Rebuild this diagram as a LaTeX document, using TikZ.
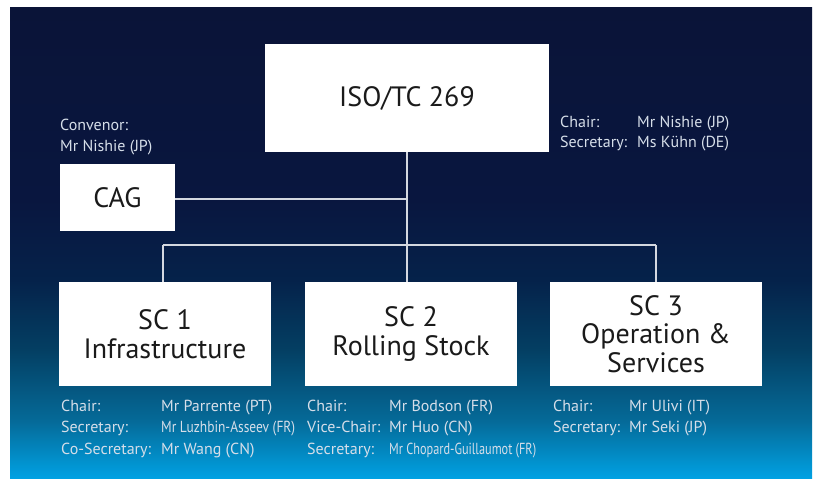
\documentclass[tikz,border=0pt]{standalone}
\usepackage{fontspec}
\setmainfont{PT Sans}
\usepackage{graphicx}
\definecolor{c0}{HTML}{0A1438}
\definecolor{c1}{HTML}{09163F}
\definecolor{c2}{HTML}{05224A}
\definecolor{c3}{HTML}{043F63}
\definecolor{c4}{HTML}{056A98}
\definecolor{cB}{HTML}{00A2E4}
\definecolor{boxtext}{HTML}{1A1A1A}
\definecolor{infotext}{HTML}{D6DEE9}
\definecolor{linecol}{HTML}{D4D8E0}
\pgfdeclareverticalshading{bgshade}{100bp}{color(0bp)=(cB); color(25bp)=(cB); color(31.2bp)=(c4); color(38.7bp)=(c3); color(46.1bp)=(c2); color(54.6bp)=(c1); color(75bp)=(c0); color(100bp)=(c0)}
\tikzset{
  box/.style={fill=white, draw=none, inner sep=0pt, minimum width=212pt, minimum height=104pt,
    align=center, text=boxtext, font=\fontsize{28}{28.5}\selectfont},
  info/.style={text=infotext, inner sep=0pt, font=\fontsize{16}{20}\selectfont, anchor=base west},
  link/.style={draw=linecol, line width=1.6pt},
}
\newcommand{\condensed}[2]{\resizebox{#1}{\height}{#2}}
\begin{document}
\begin{tikzpicture}[x=1pt,y=-1pt]
\useasboundingbox (0,0) rectangle (817,479);
\begin{scope}[y=1pt]
  \shade[shading=bgshade] (10,-7) rectangle (812,-479);
\end{scope}

% connectors (drawn first, boxes on top)
\coordinate (bus) at (407,245);
\coordinate (bus1) at (163,245);
\coordinate (bus3) at (656,245);
\coordinate (cagj) at (407,199);

\node[box, minimum width=284pt, minimum height=108pt] (iso) at (407,98) {ISO/TC 269};
\node[box, minimum width=115pt, minimum height=67pt] (cag) at (117.5,197.5) {CAG};
\node[box] (sc1) at (165,334) {SC 1\\Infrastructure};
\node[box] (sc2) at (411,334) {SC 2\\Rolling Stock};
\node[box] (sc3) at (656,334) {SC 3\\Operation \&\\Services};

\draw[link] (iso.south) -- (bus);
\draw[link] (cag.east |- cagj) -- (cagj);
\draw[link] (bus1) -- (bus3);
\draw[link] (bus1) -- (bus1 |- sc1.north);
\draw[link] (bus) -- (bus |- sc2.north);
\draw[link] (bus3) -- (sc3.north);

% CAG
\node[info] (conv) at (60,130.5) {Convenor:};
\node[info] (convn) at (60,151.5) {Mr Nishie (JP)};
% TC
\node[info] (tcl1) at (560,127) {Chair:};
\node[info] (tcn1) at (637,127) {Mr Nishie (JP)};
\node[info] (tcl2) at (560,147) {Secretary:};
\node[info] (tcn2) at (637,147) {Ms Kühn (DE)};
% SC1
\node[info] (s1l1) at (61,411) {Chair:};
\node[info] (s1n1) at (161,411) {Mr Parrente (PT)};
\node[info] (s1l2) at (61,432.5) {Secretary:};
\node[info] (s1n2) at (161,432.5) {\condensed{134pt}{Mr Luzhbin-Asseev (FR)}};
\node[info] (s1l3) at (61,454) {Co-Secretary:};
\node[info] (s1n3) at (161,454) {Mr Wang (CN)};
% SC2
\node[info] (s2l1) at (307,411) {Chair:};
\node[info] (s2n1) at (389,411) {Mr Bodson (FR)};
\node[info] (s2l2) at (307,432.5) {Vice-Chair:};
\node[info] (s2n2) at (389,432.5) {Mr Huo (CN)};
\node[info] (s2l3) at (307,454) {Secretary:};
\node[info] (s2n3) at (389,454) {\condensed{147pt}{Mr Chopard-Guillaumot (FR)}};
% SC3
\node[info] (s3l1) at (553,411) {Chair:};
\node[info] (s3n1) at (629,411) {Mr Ulivi (IT)};
\node[info] (s3l2) at (553,432.5) {Secretary:};
\node[info] (s3n2) at (629,432.5) {Mr Seki (JP)};
\end{tikzpicture}
\end{document}
